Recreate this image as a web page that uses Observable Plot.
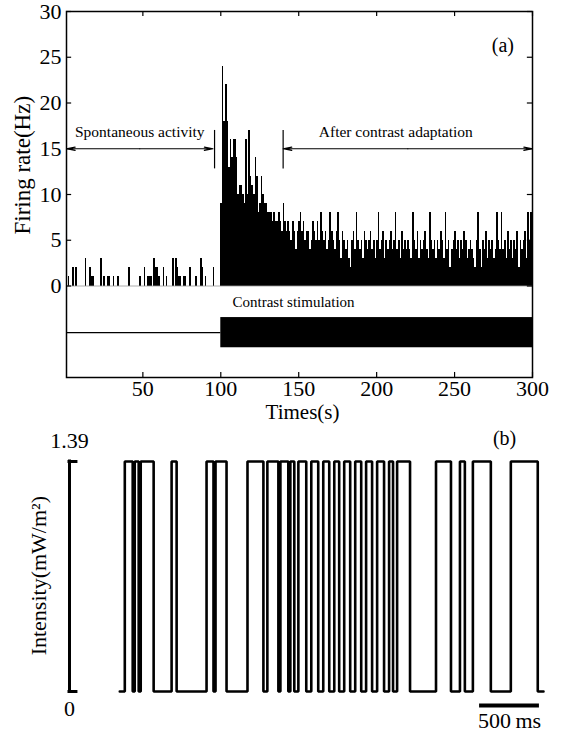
<!DOCTYPE html>
<html><head><meta charset="utf-8">
<script src="https://cdn.jsdelivr.net/npm/d3@7"></script>
<script src="https://cdn.jsdelivr.net/npm/@observablehq/plot@0.6"></script>
<style>
body{margin:0;background:#fff;}
#chart{width:568px;height:733px;overflow:hidden;background:#fff;}
#chart svg{display:block;}
</style></head><body><div id="chart"></div>
<script>
// ---------- Panel (a) data: firing rate per 1 s bin (Hz) ----------
const spontaneousRate = [
  0,0,1,0,0,2,0,2,0,0,
  0,0,0,3,0,0,2,1,1,0,
  0,0,0,3,0,1,0,1,1,0,
  0,1,0,0,1,0,0,0,0,0,
  0,2,0,0,0,0,0,0,1,0,
  0,2,0,1,1,1,0,3,2,2,
  1,0,0,2,0,1,0,0,0,3,
  0,3,2,1,1,0,1,1,0,0,
  2,0,0,0,1,0,0,3,2,0,
  1,0,0,0,0,2,0,0,0,0
];
const stimulatedRate = [
  9,24,18,22,18,13,16,14,16,16,
  14,10,11,11,10,9,16,10,17,12,
  11,10,14,12,8,9,12,10,9,9,
  8,8,8,7,8,7,7,8,7,6,
  9,7,6,7,6,5,7,6,4,6,7,8,6,7,5,6,6,4,5,7,
  6,5,7,5,8,6,5,6,4,5,8,6,5,4,6,8,5,3,6,5,
  4,5,3,2,5,6,4,8,5,4,5,3,6,5,4,5,6,4,5,3,
  5,8,4,5,6,3,5,4,5,6,4,5,8,4,5,3,6,4,5,4,
  5,4,3,8,5,4,6,3,5,4,5,6,4,3,8,5,4,5,3,5,
  4,6,5,3,8,4,5,2,4,5,6,4,5,3,5,4,6,5,3,4,
  5,4,3,2,5,8,4,2,5,4,6,3,5,4,5,3,4,8,5,4,
  8,4,5,3,6,4,5,3,5,4,6,2,5,4,5,6,3,8,5,8
];
const stimOnset = 100;      // s
const recordEnd = 300;      // s
const spontaneousSpan = [1, 95];
const adaptedSpan = [140, 300];
const xTicks = [50, 100, 150, 200, 250, 300];
const yTicks = [0, 5, 10, 15, 20, 25, 30];

// ---------- Panel (b) data: stimulus intensity trace ----------
const switchTimes = [0,42,108,125,158,175,283,433,475,725,783,800,892,1067,1200,1233,
  1325,1342,1408,1425,1458,1492,1558,1600,1658,1700,1750,1792,1833,1875,1925,1967,
  2017,2058,2108,2150,2208,2250,2283,2317,2425,2642,2767,2842,2883,2950,3100,3267,
  3492,3540];
const switchLevels = [0,1.39,0,1.39,0,1.39,0,1.39,0,1.39,0,1.39,0,1.39,0,1.39,
  0,1.39,0,1.39,0,1.39,0,1.39,0,1.39,0,1.39,0,1.39,0,1.39,
  0,1.39,0,1.39,0,1.39,0,1.39,0,1.39,0,1.39,0,1.39,0,1.39,
  0,0];
const intensityTicks = [0, 1.39];
const scaleBarMs = 500;

// ---------- Build ----------
const FONT = "'Liberation Serif','Times New Roman',serif";
const bins = spontaneousRate.map((v, i) => ({t: i, v}))
  .concat(stimulatedRate.map((v, i) => ({t: stimOnset + i, v})));

const panelA = Plot.plot({
  width: 568, height: 425,
  marginLeft: 66, marginRight: 36, marginTop: 11, marginBottom: 48,
  x: {domain: [1, recordEnd]},
  y: {domain: [-10, 30]},
  style: {fontFamily: FONT, fontSize: "22px", color: "black", background: "white", overflow: "visible"},
  marks: [
    Plot.rect(bins, {x1: "t", x2: d => d.t + 1, y1: 0, y2: "v", fill: "black", clip: true, shapeRendering: "crispEdges"}),
    Plot.ruleY([0], {stroke: "#999", strokeWidth: 0.8}),
    // stimulation protocol
    Plot.ruleY([0], {x1: 1, x2: stimOnset, y: -5.1, strokeWidth: 1.2}),
    Plot.rect([0], {x1: stimOnset, x2: recordEnd, y1: -3.45, y2: -6.75, fill: "black"}),
    Plot.text(["Contrast stimulation"], {x: stimOnset + 7.5, y: -1.75, textAnchor: "start", fontSize: 15}),
    // annotations
    Plot.ruleX([spontaneousSpan[1] + 1], {y1: 12.8, y2: 17, strokeWidth: 1.2}),
    Plot.ruleX([adaptedSpan[0]], {y1: 12.8, y2: 17, strokeWidth: 1.2}),
    Plot.arrow([spontaneousSpan, adaptedSpan], {x1: d => (d[0] + d[1]) / 2, x2: d => d[0], y1: 15, y2: 15, headLength: 11, headAngle: 22, strokeWidth: 1.2}),
    Plot.arrow([spontaneousSpan, adaptedSpan], {x1: d => (d[0] + d[1]) / 2, x2: d => d[1], y1: 15, y2: 15, headLength: 11, headAngle: 22, strokeWidth: 1.2}),
    Plot.text(["Spontaneous activity"], {x: (spontaneousSpan[0] + spontaneousSpan[1]) / 2, y: 16.8, fontSize: 15.5}),
    Plot.text(["After contrast adaptation"], {x: (adaptedSpan[0] + adaptedSpan[1]) / 2, dx: -12, y: 16.8, fontSize: 15.5}),
    Plot.text(["(a)"], {x: 281, y: 26.3, fontSize: 20}),
    // frame and inward ticks
    Plot.frame({strokeWidth: 1.5}),
    Plot.ruleX(xTicks, {y1: -10, y2: -9.45, strokeWidth: 1.2}),
    Plot.ruleX(xTicks, {y1: 30, y2: 29.45, strokeWidth: 1.2}),
    Plot.ruleY(yTicks, {x1: 1, x2: 4.3, strokeWidth: 1.2}),
    Plot.ruleY(yTicks, {x1: 296.7, x2: 300, strokeWidth: 1.2}),
    Plot.axisX(xTicks, {anchor: "bottom", tickSize: 0, tickPadding: 3, label: null}),
    Plot.axisY(yTicks, {anchor: "left", tickSize: 0, tickPadding: 5, label: null}),
    Plot.text(["Times(s)"], {frameAnchor: "bottom", lineAnchor: "middle", textAnchor: "middle", dy: 35, dx: 3, fontSize: 21}),
    Plot.text(["Firing rate(Hz)"], {frameAnchor: "left", textAnchor: "middle", lineAnchor: "middle", dx: -44, y: 13.2, rotate: -90, fontSize: 23})
  ]
});

const trace = switchTimes.map((t, i) => ({t, level: switchLevels[i]}));
const barStart = 3006;
const panelB = Plot.plot({
  width: 568, height: 308,
  marginLeft: 69, marginRight: 25, marginTop: 36, marginBottom: 42,
  x: {domain: [-420, 3540], axis: null},
  y: {domain: [0, 1.39], axis: null},
  style: {fontFamily: FONT, fontSize: "22px", color: "black", background: "white", overflow: "visible"},
  marks: [
    Plot.line(trace, {x: "t", y: "level", curve: "step-after", stroke: "black", strokeWidth: 2.6, strokeLinejoin: "miter"}),
    Plot.ruleX([-420], {y1: 0, y2: 1.39, strokeWidth: 3, strokeLinecap: "square"}),
    Plot.ruleY(intensityTicks, {x1: -420, x2: -362, strokeWidth: 3, strokeLinecap: "square"}),
    Plot.text([intensityTicks[1]], {x: -420, y: d => d, dy: -21, text: d => String(d)}),
    Plot.text([intensityTicks[0]], {x: -420, y: d => d, dy: 17, text: d => String(d)}),
    Plot.text(["Intensity(mW/m\u00B2)"], {frameAnchor: "left", textAnchor: "middle", lineAnchor: "middle", dx: -31, y: 0.70, rotate: -90, fontSize: 22}),
    Plot.text(["(b)"], {x: 3215, y: 1.53, fontSize: 20}),
    Plot.ruleY([0], {x1: barStart, x2: barStart + scaleBarMs, y: -0.085, strokeWidth: 4}),
    Plot.text([scaleBarMs + "\u2009ms"], {x: barStart + scaleBarMs / 2, y: -0.175, fontSize: 22})
  ]
});

const root = document.getElementById("chart");
root.appendChild(panelA);
root.appendChild(panelB);
</script>
</body></html>
